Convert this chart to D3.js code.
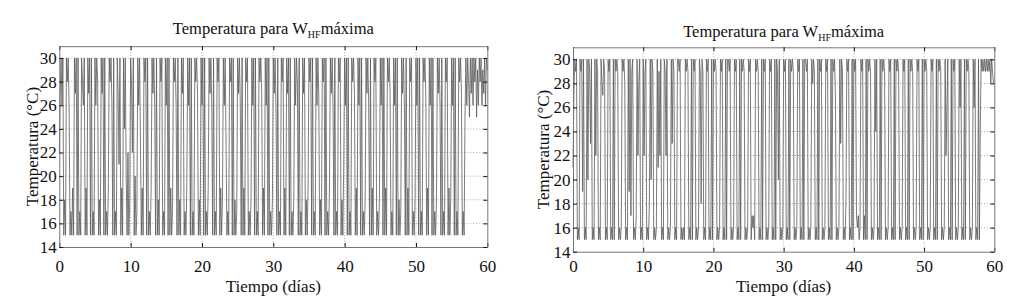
<!DOCTYPE html>
<html>
<head>
<meta charset="utf-8">
<script src="https://cdn.jsdelivr.net/npm/d3@7"></script>
<style>
  body { margin: 0; background: #fff; }
</style>
</head>
<body>
<script>
// temperatura (°C) cada 3 horas (8 muestras por día), una fila por día
var stepDays = 1 / 8;
var tempA = [
  22,27,30,26,30,15,18,15,
  30,28,30,26,15,17,15,19,
  15,30,27,30,15,30,15,17,
  15,30,28,26,30,15,19,15,
  30,27,30,15,30,15,17,15,
  30,26,30,28,15,18,15,30,
  27,30,15,30,15,17,15,19,
  30,28,30,26,15,30,15,17,
  15,30,27,21,30,15,19,15,
  30,24,30,20,15,22,15,18,
  30,28,22,30,15,20,15,17,
  30,26,30,23,15,19,15,30,
  28,30,15,30,15,17,15,19,
  30,27,30,26,15,30,15,18,
  15,30,28,30,15,17,15,30,
  26,30,15,30,15,19,15,17,
  30,28,30,26,15,30,15,18,
  15,30,27,30,15,17,15,19,
  30,26,30,15,30,15,17,15,
  30,28,30,27,15,18,15,30,
  26,30,15,30,15,17,15,19,
  30,27,30,26,15,30,15,17,
  15,30,28,30,15,19,15,18,
  30,26,30,23,15,17,15,30,
  28,30,15,30,15,18,15,17,
  30,27,30,26,15,30,15,19,
  15,30,28,30,15,17,15,18,
  30,26,30,15,30,15,17,15,
  30,28,30,27,15,19,15,30,
  26,30,15,30,15,17,15,18,
  30,27,30,26,15,30,15,17,
  15,30,28,30,15,19,15,30,
  27,30,15,30,15,17,15,18,
  30,26,30,28,15,30,15,17,
  15,30,27,30,15,18,15,19,
  30,28,30,15,30,15,17,15,
  30,26,30,27,15,18,15,30,
  28,30,15,30,15,17,15,19,
  30,27,30,26,15,30,15,17,
  15,30,28,30,15,18,15,21,
  30,26,30,15,30,15,17,15,
  30,28,30,27,15,19,15,30,
  26,30,15,30,15,17,15,18,
  30,27,30,26,15,30,15,19,
  15,30,28,30,15,17,15,18,
  30,26,30,15,30,15,19,15,
  30,28,30,27,15,17,15,30,
  26,30,15,30,15,18,15,17,
  30,27,30,26,15,30,15,19,
  15,30,28,30,15,17,15,18,
  30,26,30,15,30,15,17,15,
  30,28,30,27,15,19,15,30,
  26,30,15,30,15,17,15,18,
  30,27,30,26,15,30,15,17,
  15,30,28,30,15,19,15,18,
  30,26,30,15,30,15,17,15,
  30,28,30,27,15,17,15,25,
  30,26,30,28,25,30,27,30,
  26,30,28,30,25,29,26,30,
  28,30,26,29,27,30,26,30,
  29
];
var tempB = [
  21,27,30,29,30,15,16,15,
  30,29,30,19,30,15,16,15,
  30,20,30,29,23,30,15,16,
  15,30,22,30,29,15,16,15,
  30,28,27,30,29,15,16,15,
  30,29,30,15,16,15,30,15,
  30,29,30,29,15,16,15,16,
  30,29,30,28,15,16,15,30,
  19,30,17,29,30,15,16,15,
  17,30,22,28,30,15,16,15,
  30,22,29,30,15,16,15,18,
  30,20,30,29,15,16,15,16,
  30,21,29,22,30,15,16,15,
  30,29,22,30,15,16,15,16,
  30,23,30,29,15,16,15,30,
  30,29,30,15,16,15,16,15,
  30,29,30,29,15,16,15,30,
  15,30,29,30,15,16,15,16,
  30,29,18,30,29,15,16,15,
  30,29,30,15,16,15,30,15,
  30,29,30,29,15,16,15,16,
  30,29,30,15,16,15,30,15,
  30,30,29,30,15,16,15,16,
  30,29,30,15,16,15,30,15,
  30,29,30,29,15,16,15,16,
  30,29,30,15,17,16,17,15,
  30,29,30,29,15,16,15,30,
  15,30,29,30,15,16,15,16,
  30,29,30,15,16,15,30,15,
  30,29,20,30,15,16,15,16,
  30,29,30,15,16,15,30,15,
  30,29,30,29,15,16,15,16,
  30,29,30,15,16,15,30,15,
  30,30,29,30,15,16,15,16,
  30,28,30,29,15,16,15,30,
  15,30,29,30,15,16,15,16,
  30,29,30,15,16,15,30,15,
  30,29,30,27,15,16,15,16,
  30,23,30,29,15,16,15,18,
  30,29,30,15,16,15,30,15,
  30,29,30,17,16,17,15,16,
  30,29,30,15,17,15,30,15,
  30,29,30,29,15,16,15,16,
  30,24,30,15,16,15,30,15,
  30,29,30,29,15,16,15,16,
  30,29,30,15,16,15,30,15,
  30,29,30,29,15,16,15,16,
  30,29,30,15,16,15,30,15,
  30,29,30,29,15,16,15,16,
  30,29,30,15,16,15,30,15,
  30,29,30,29,15,16,15,16,
  30,29,30,15,16,15,30,15,
  30,29,30,29,15,16,15,16,
  30,22,26,30,15,16,15,30,
  15,30,29,30,15,16,15,16,
  30,26,30,15,16,15,30,15,
  30,29,30,29,15,16,15,16,
  30,26,30,15,16,15,30,15,
  24,30,29,30,29,30,29,30,
  29,30,29,30,28,30,29,28,
  28
];
var dayTicks = [0, 10, 20, 30, 40, 50, 60];
var tempTicks = [14, 16, 18, 20, 22, 24, 26, 28, 30];
var dayDomain = [0, 60];
var tempDomain = [14, 31];

var serif = "'Liberation Serif'";
var width = 1022, height = 307;
var svg = d3.select('body').append('svg')
  .attr('width', width).attr('height', height);

drawPanel(tempA, {left: 59.3, right: 487.3, top: 46.2, bottom: 247, titleY: 34, ylabX: 32, xpad: 12.5});
drawPanel(tempB, {left: 573, right: 994.3, top: 47.3, bottom: 251.7, titleY: 36.5, ylabX: 543, xpad: 8});

function drawPanel(data, box) {
  var x = d3.scaleLinear().domain(dayDomain).range([box.left, box.right]);
  var y = d3.scaleLinear().domain(tempDomain).range([box.bottom, box.top]);
  var g = svg.append('g');

  // rejilla punteada
  g.selectAll('.gx').data(dayTicks.slice(1, -1)).enter().append('line')
    .attr('x1', function(d) { return x(d); }).attr('x2', function(d) { return x(d); })
    .attr('y1', box.top).attr('y2', box.bottom)
    .attr('stroke', '#aaa').attr('stroke-width', 1).attr('stroke-dasharray', '1,2');
  g.selectAll('.gy').data(tempTicks.slice(1)).enter().append('line')
    .attr('x1', box.left).attr('x2', box.right)
    .attr('y1', function(d) { return y(d); }).attr('y2', function(d) { return y(d); })
    .attr('stroke', '#aaa').attr('stroke-width', 1).attr('stroke-dasharray', '1,2');

  // serie
  var line = d3.line()
    .x(function(d, i) { return x(i * stepDays); })
    .y(function(d) { return y(d); });
  g.append('path')
    .datum(data)
    .attr('d', line)
    .attr('fill', 'none')
    .attr('stroke', '#5a5a5a')
    .attr('stroke-width', 0.8);

  // ejes con marcas hacia dentro (estilo matlab)
  var xb = d3.axisBottom(x).tickValues(dayTicks).tickSizeInner(-4).tickSizeOuter(0).tickPadding(box.xpad);
  var xt = d3.axisTop(x).tickValues(dayTicks).tickSizeInner(-4).tickSizeOuter(0).tickFormat('');
  var yl = d3.axisLeft(y).tickValues(tempTicks).tickSizeInner(-4).tickSizeOuter(0).tickPadding(2.5);
  var yr = d3.axisRight(y).tickValues(tempTicks).tickSizeInner(-4).tickSizeOuter(0).tickFormat('');

  var axB = g.append('g').attr('transform', 'translate(0,' + box.bottom + ')').call(xb);
  var axT = g.append('g').attr('transform', 'translate(0,' + box.top + ')').call(xt);
  var axL = g.append('g').attr('transform', 'translate(' + box.left + ',0)').call(yl);
  var axR = g.append('g').attr('transform', 'translate(' + box.right + ',0)').call(yr);
  [axB, axT, axL, axR].forEach(function(a) {
    a.select('.domain').attr('stroke', '#777');
    a.selectAll('.tick line').attr('stroke', '#111');
    a.selectAll('.tick text').attr('fill', '#111')
      .style('font-family', serif).style('font-size', '17px');
  });

  var cx = (box.left + box.right) / 2;
  var title = g.append('text')
    .attr('x', cx).attr('y', box.titleY)
    .attr('text-anchor', 'middle')
    .attr('fill', '#111')
    .style('font-family', serif).style('font-size', '16.5px');
  title.append('tspan').text('Temperatura para W');
  title.append('tspan').attr('dy', 4).style('font-size', '10px').text('HF');
  title.append('tspan').attr('dy', -4).text('máxima');

  g.append('text')
    .attr('x', cx).attr('y', 292)
    .attr('text-anchor', 'middle')
    .attr('fill', '#111')
    .style('font-family', serif).style('font-size', '17px')
    .text('Tiempo (días)');

  g.append('text')
    .attr('transform', 'translate(' + box.ylabX + ',' + ((box.top + box.bottom) / 2) + ') rotate(-90)')
    .attr('text-anchor', 'middle')
    .attr('dy', '0.35em')
    .attr('fill', '#111')
    .style('font-family', serif).style('font-size', '17px')
    .text('Temperatura (°C)');
}
</script>
</body>
</html>
